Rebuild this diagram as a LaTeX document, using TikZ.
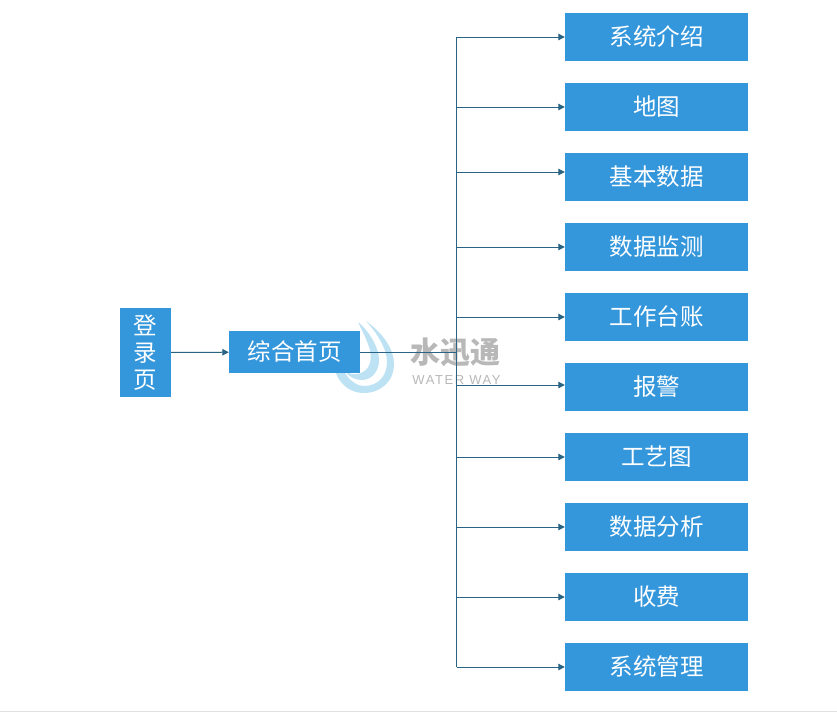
\documentclass[tikz,border=0pt]{standalone}
\usepackage{fontspec}
\setmainfont{Noto Sans CJK SC}
\newfontfamily\latinwm[LetterSpace=12]{Liberation Sans}
\usetikzlibrary{arrows.meta,calc}
\definecolor{boxblue}{HTML}{3496DB}
\definecolor{linkblue}{HTML}{2A6485}
\definecolor{dropblue}{HTML}{BDE2F3}
\definecolor{wmgray}{HTML}{B8B8B8}
\tikzset{
  x=1pt,y=-1pt,
  menubox/.style={fill=boxblue,text=white,minimum width=183pt,minimum height=48pt,inner sep=0pt,font=\fontsize{23.5}{23.5}\selectfont},
  mainbox/.style={fill=boxblue,text=white,inner sep=0pt,font=\fontsize{23.5}{23.5}\selectfont},
  link/.style={draw=linkblue,line width=1pt},
  linkarrow/.style={link,-{Triangle[length=6.5pt,width=6.5pt]}},
}
\begin{document}
\begin{tikzpicture}
\useasboundingbox (0,0) rectangle (837,712);
\fill[white] (0,0) rectangle (837,712);
\fill[black!12] (0,711) rectangle (837,712);
% watermark
\fill[dropblue] (366,321)
  .. controls (384,334) and (394,350) .. (394,364)
  .. controls (394,382) and (380,393) .. (364,393)
  .. controls (346,393) and (334,378) .. (334,362)
  .. controls (334,358) and (335,352) .. (337,348)
  .. controls (340,372) and (352,386) .. (364,386)
  .. controls (378,386) and (387,376) .. (387,362)
  .. controls (387,348) and (376,332) .. (366,321) -- cycle;
\fill[dropblue] (358,322)
  .. controls (370,332) and (379,348) .. (379,360)
  .. controls (379,372) and (371,380) .. (362,380)
  .. controls (355,380) and (349,377) .. (346,372)
  .. controls (352,375) and (358,375) .. (363,372)
  .. controls (370,368) and (372,360) .. (370,350)
  .. controls (367,340) and (362,330) .. (358,322) -- cycle;
\node[text=wmgray,font=\fontsize{30}{30}\selectfont\bfseries,inner sep=0pt] (wmcn) at (455,352) {水迅通};
\node[text=wmgray,font=\latinwm\fontsize{13}{13}\selectfont,inner sep=0pt] (wmen) at (456.5,380) {WATER WAY};
% boxes
\node[mainbox,minimum width=51pt,minimum height=89pt,align=center] (login) at (145.5,352.5) {登\\[3.5pt]录\\[3.5pt]页};
\node[mainbox,minimum width=131pt,minimum height=42pt] (home) at (294.5,352) {综合首页};
\foreach \n/\t [count=\i from 0] in {a/系统介绍,b/地图,c/基本数据,d/数据监测,e/工作台账,f/报警,g/工艺图,h/数据分析,k/收费,m/系统管理}{
  \node[menubox] (\n) at (656.5,{37+70*\i}) {\t};
}
\coordinate (top) at (456.5,37);
\coordinate (bottom) at (456.5,667);
\coordinate (junction) at (456.5,352);
\draw[linkarrow] (login) -- (home);
\draw[link] (home) -- (junction);
\draw[link] (top) -- (bottom);
\foreach \n/\dy in {a/0,b/0,c/-5,d/0,e/0,f/-2,g/0,h/0,k/0,m/0}{
  \coordinate (s\n) at ($(\n.west)+(0,\dy)$);
  \draw[linkarrow] (s\n -| top) -- (s\n);
}
\end{tikzpicture}
\end{document}
